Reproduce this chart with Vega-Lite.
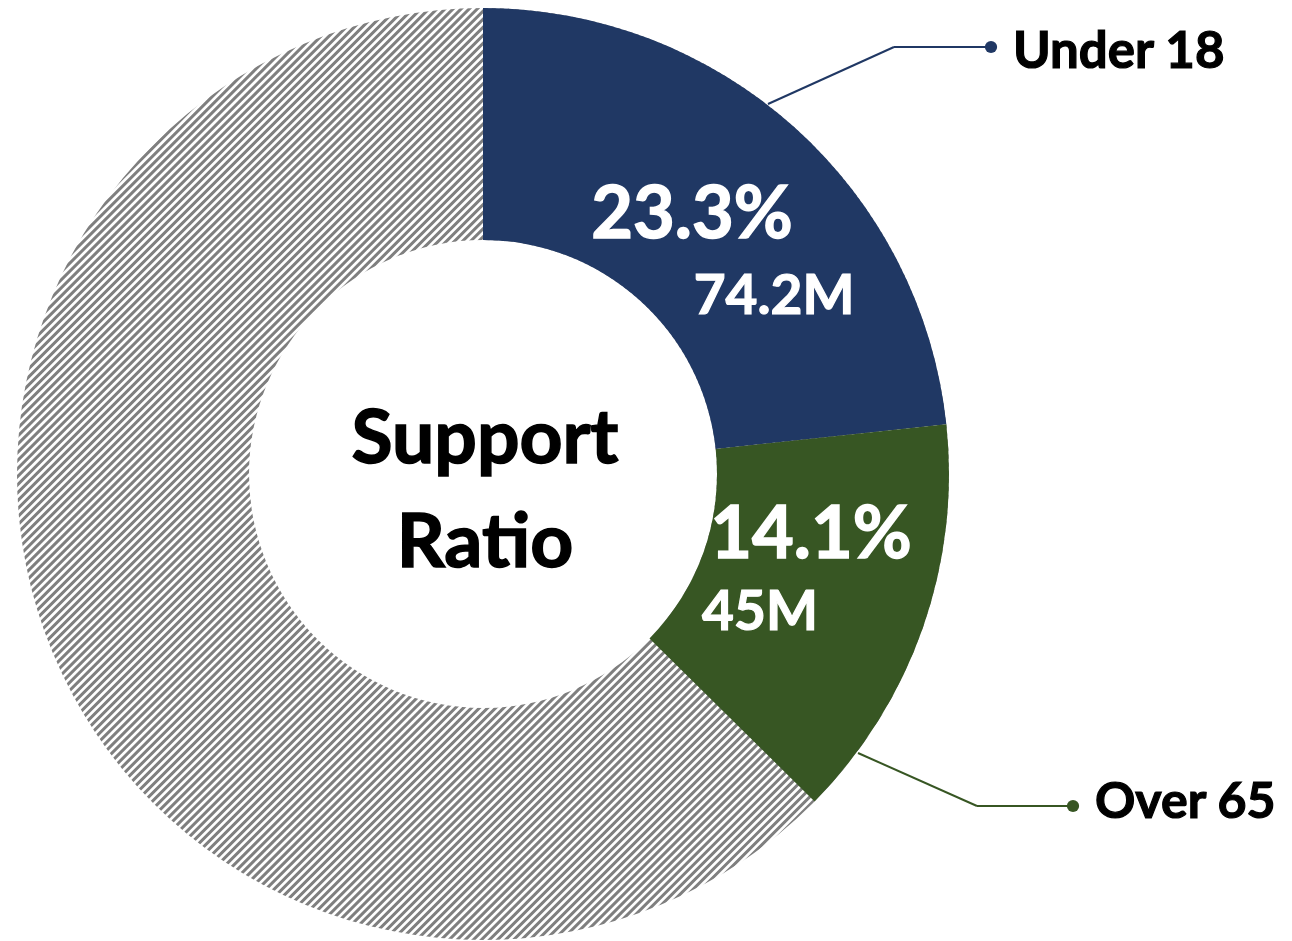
{
  "$schema": "https://vega.github.io/schema/vega-lite/v6.json",
  "width": 1292,
  "height": 941,
  "padding": 0,
  "autosize": {"type": "none"},
  "background": "white",
  "config": {"view": {"stroke": null}, "text": {"font": "Lato", "fontWeight": "bold"}},
  "data": {"values": [
    {"group": "Under 18", "share": 0.233, "pop_label": "74.2M", "ord": 1},
    {"group": "Over 65", "share": 0.141, "pop_label": "45M", "ord": 2},
    {"group": "18 to 64", "share": 0.626, "pop_label": "", "ord": 3}
  ]},
  "layer": [
    {
      "transform": [{"filter": "datum.ord == 3"}],
      "mark": {"type": "rule", "strokeWidth": 1400, "strokeDash": [3.0, 2.7], "strokeCap": "butt", "color": "#7f7f7f"},
      "encoding": {
        "x": {"datum": -217, "type": "quantitative", "scale": {"domain": [0, 1292], "nice": false, "zero": false}, "axis": null},
        "y": {"datum": -226, "type": "quantitative", "scale": {"domain": [0, 941], "nice": false, "zero": false, "reverse": true}, "axis": null},
        "x2": {"datum": 1183},
        "y2": {"datum": 1174}
      }
    },
    {
      "transform": [{"filter": "datum.ord == 3"}],
      "mark": {"type": "arc", "innerRadius": 466, "outerRadius": 1300, "theta": 0, "theta2": 6.2832, "fill": "white"},
      "encoding": {
        "x": {"datum": 483, "type": "quantitative", "scale": {"domain": [0, 1292], "nice": false, "zero": false}, "axis": null},
        "y": {"datum": 474, "type": "quantitative", "scale": {"domain": [0, 941], "nice": false, "zero": false, "reverse": true}, "axis": null}
      }
    },
    {
      "transform": [{"filter": "datum.ord == 3"}],
      "mark": {"type": "arc", "innerRadius": 0, "outerRadius": 234, "theta": 0, "theta2": 6.2832, "fill": "white"},
      "encoding": {
        "x": {"datum": 483, "type": "quantitative", "scale": {"domain": [0, 1292], "nice": false, "zero": false}, "axis": null},
        "y": {"datum": 474, "type": "quantitative", "scale": {"domain": [0, 941], "nice": false, "zero": false, "reverse": true}, "axis": null}
      }
    },
    {
      "mark": {"type": "arc", "innerRadius": 234, "outerRadius": 466},
      "encoding": {
        "x": {"datum": 483, "type": "quantitative", "scale": {"domain": [0, 1292], "nice": false, "zero": false}, "axis": null},
        "y": {"datum": 474, "type": "quantitative", "scale": {"domain": [0, 941], "nice": false, "zero": false, "reverse": true}, "axis": null},
        "theta": {"field": "share", "type": "quantitative", "stack": true},
        "order": {"field": "ord", "type": "quantitative"},
        "color": {"field": "group", "type": "nominal", "legend": null,
          "scale": {"domain": ["Under 18", "Over 65", "18 to 64"], "range": ["#203864", "#375623", "rgba(255,255,255,0)"]}}
      }
    },
    {
      "transform": [{"filter": "datum.ord == 1"}],
      "mark": {"type": "rule", "strokeWidth": 2, "color": "#203864"},
      "encoding": {"x": {"datum": 768, "type": "quantitative"}, "y": {"datum": 104, "type": "quantitative"}, "x2": {"datum": 894}, "y2": {"datum": 47}}
    },
    {
      "transform": [{"filter": "datum.ord == 1"}],
      "mark": {"type": "rule", "strokeWidth": 2, "color": "#203864"},
      "encoding": {"x": {"datum": 894, "type": "quantitative"}, "y": {"datum": 47, "type": "quantitative"}, "x2": {"datum": 991}, "y2": {"datum": 47}}
    },
    {
      "transform": [{"filter": "datum.ord == 2"}],
      "mark": {"type": "rule", "strokeWidth": 2, "color": "#375623"},
      "encoding": {"x": {"datum": 858, "type": "quantitative"}, "y": {"datum": 753, "type": "quantitative"}, "x2": {"datum": 977}, "y2": {"datum": 806}}
    },
    {
      "transform": [{"filter": "datum.ord == 2"}],
      "mark": {"type": "rule", "strokeWidth": 2, "color": "#375623"},
      "encoding": {"x": {"datum": 977, "type": "quantitative"}, "y": {"datum": 806, "type": "quantitative"}, "x2": {"datum": 1073}, "y2": {"datum": 806}}
    },
    {
      "transform": [{"filter": "datum.ord == 1"}],
      "mark": {"type": "circle", "size": 150, "opacity": 1, "color": "#203864"},
      "encoding": {"x": {"datum": 991, "type": "quantitative"}, "y": {"datum": 47, "type": "quantitative"}}
    },
    {
      "transform": [{"filter": "datum.ord == 2"}],
      "mark": {"type": "circle", "size": 150, "opacity": 1, "color": "#375623"},
      "encoding": {"x": {"datum": 1073, "type": "quantitative"}, "y": {"datum": 806, "type": "quantitative"}}
    },
    {
      "transform": [{"filter": "datum.ord == 1"}],
      "mark": {"type": "text", "fontSize": 51, "align": "left", "baseline": "alphabetic", "color": "black", "stroke": "black", "strokeWidth": 1.2},
      "encoding": {"x": {"datum": 1013, "type": "quantitative"}, "y": {"datum": 68, "type": "quantitative"}, "text": {"field": "group"}}
    },
    {
      "transform": [{"filter": "datum.ord == 2"}],
      "mark": {"type": "text", "fontSize": 50, "align": "left", "baseline": "alphabetic", "color": "black", "stroke": "black", "strokeWidth": 1.2},
      "encoding": {"x": {"datum": 1095, "type": "quantitative"}, "y": {"datum": 818, "type": "quantitative"}, "text": {"field": "group"}}
    },
    {
      "transform": [{"filter": "datum.ord == 1"}],
      "mark": {"type": "text", "fontSize": 72, "align": "center", "baseline": "alphabetic", "color": "white", "stroke": "white", "strokeWidth": 1.5},
      "encoding": {"x": {"datum": 692, "type": "quantitative"}, "y": {"datum": 238, "type": "quantitative"}, "text": {"field": "share", "format": ".1%"}}
    },
    {
      "transform": [{"filter": "datum.ord == 1"}],
      "mark": {"type": "text", "fontSize": 55, "align": "center", "baseline": "alphabetic", "color": "white", "stroke": "white", "strokeWidth": 1.2},
      "encoding": {"x": {"datum": 774, "type": "quantitative"}, "y": {"datum": 314, "type": "quantitative"}, "text": {"field": "pop_label"}}
    },
    {
      "transform": [{"filter": "datum.ord == 2"}],
      "mark": {"type": "text", "fontSize": 72, "align": "center", "baseline": "alphabetic", "color": "white", "stroke": "white", "strokeWidth": 1.5},
      "encoding": {"x": {"datum": 811, "type": "quantitative"}, "y": {"datum": 558, "type": "quantitative"}, "text": {"field": "share", "format": ".1%"}}
    },
    {
      "transform": [{"filter": "datum.ord == 2"}],
      "mark": {"type": "text", "fontSize": 55, "align": "center", "baseline": "alphabetic", "color": "white", "stroke": "white", "strokeWidth": 1.2},
      "encoding": {"x": {"datum": 760, "type": "quantitative"}, "y": {"datum": 630, "type": "quantitative"}, "text": {"field": "pop_label"}}
    },
    {
      "transform": [{"filter": "datum.ord == 3"}],
      "mark": {"type": "text", "fontSize": 75, "align": "center", "baseline": "alphabetic", "color": "black", "stroke": "black", "strokeWidth": 1.5, "text": "Support"},
      "encoding": {"x": {"datum": 485, "type": "quantitative"}, "y": {"datum": 463, "type": "quantitative"}}
    },
    {
      "transform": [{"filter": "datum.ord == 3"}],
      "mark": {"type": "text", "fontSize": 75, "align": "center", "baseline": "alphabetic", "color": "black", "stroke": "black", "strokeWidth": 1.5, "text": "Ratio"},
      "encoding": {"x": {"datum": 485, "type": "quantitative"}, "y": {"datum": 567, "type": "quantitative"}}
    }
  ]
}
